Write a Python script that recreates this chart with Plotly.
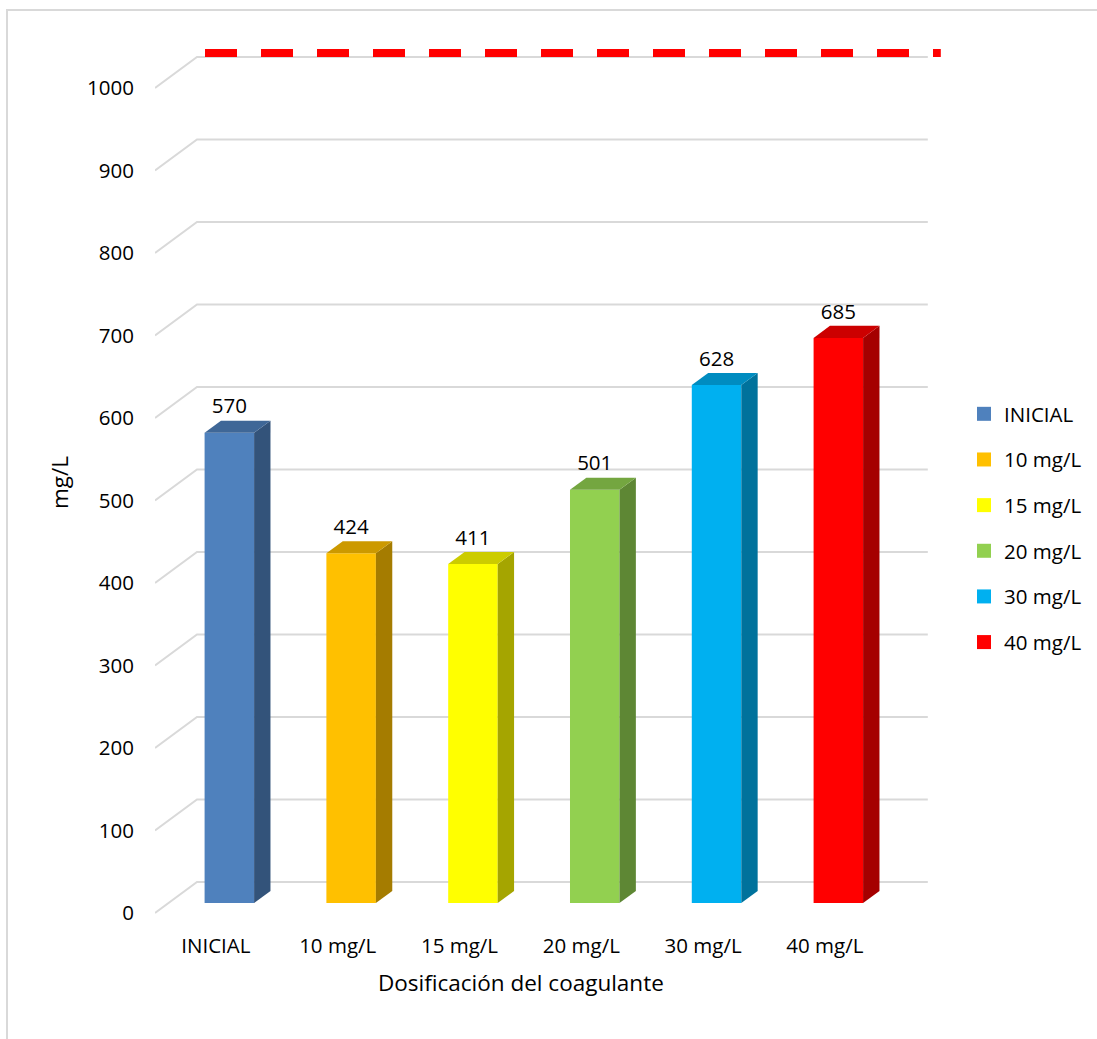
import plotly.graph_objects as go

# ---------------- data ----------------
categories = ["INICIAL", "10 mg/L", "15 mg/L", "20 mg/L", "30 mg/L", "40 mg/L"]
values = [570, 424, 411, 501, 628, 685]
front_colors = ["#4F81BD", "#FFC000", "#FFFF00", "#92D050", "#00B0F0", "#FF0000"]
y_ticks = [0, 100, 200, 300, 400, 500, 600, 700, 800, 900, 1000]
limit_value = 1000
x_title = "Dosificación del coagulante"
y_title = "mg/L"

# ---------------- geometry (pseudo 3-D) ----------------
W, H = 1097, 1039
PX_X = 121.8          # px per category
PX_Y = 0.825          # px per unit
L, R, T, B = 155, 152, 40, 114
plot_w = W - L - R
plot_h = H - T - B
x0 = -0.5
x_range = [x0, x0 + plot_w / PX_X]
y_low = -12.0 / PX_Y
y_range = [y_low, y_low + plot_h / PX_Y]

DX = 42 / PX_X        # depth vector (category units)
DY = 31 / PX_Y        # depth vector (value units)
F1, F2 = 0.32, 0.71   # bar front / back depth fractions
BAR_W = 49.5 / PX_X
n = len(categories)

FONT = "Open Sans"
FS = 20.5
FS_T = 22.5
TXT = "#000000"
GRID = "#D9D9D9"


def shade(hexc, f):
    h = hexc.lstrip("#")
    r, g, b = (int(h[i:i + 2], 16) for i in (0, 2, 4))
    return "#{:02X}{:02X}{:02X}".format(int(r * f), int(g * f), int(b * f))


fig = go.Figure()

# gridlines (front-left diagonal + back wall), built from tick values
shapes = []
for v in y_ticks:
    shapes.append(dict(type="path", xref="x", yref="y", layer="below",
                       path=f"M{x0},{v} L{x0 + DX},{v + DY} L{n - 0.5 + DX},{v + DY}",
                       line=dict(color=GRID, width=2)))

# outer chart border
shapes.append(dict(type="rect", xref="paper", yref="paper", layer="below",
                   x0=(7 - L) / plot_w, x1=(W + 20 - L) / plot_w,
                   y0=(H - B - (H + 20)) / plot_h, y1=(H - B - 10) / plot_h,
                   line=dict(color=GRID, width=2)))

# bars: front faces
bx = [i + F1 * DX for i in range(n)]
b1 = F1 * DY
bdx = (F2 - F1) * DX
bdy = (F2 - F1) * DY
fig.add_trace(go.Bar(x=bx, y=values, base=b1, width=BAR_W,
                     marker=dict(color=front_colors, line=dict(width=0)),
                     showlegend=False, hoverinfo="skip"))

# side & top faces
for i, (v, c) in enumerate(zip(values, front_colors)):
    xl = bx[i] - BAR_W / 2
    xr = bx[i] + BAR_W / 2
    fig.add_trace(go.Scatter(
        x=[xr, xr + bdx, xr + bdx, xr, xr],
        y=[b1, b1 + bdy, b1 + v + bdy, b1 + v, b1],
        fill="toself", fillcolor=shade(c, 0.65), mode="lines",
        line=dict(width=0), showlegend=False, hoverinfo="skip"))
    fig.add_trace(go.Scatter(
        x=[xl, xl + bdx, xr + bdx, xr, xl],
        y=[b1 + v, b1 + v + bdy, b1 + v + bdy, b1 + v, b1 + v],
        fill="toself", fillcolor=shade(c, 0.8), mode="lines",
        line=dict(width=0), showlegend=False, hoverinfo="skip"))

# data labels
fig.add_trace(go.Scatter(
    x=bx, y=[v + b1 + bdy + 15 for v in values], mode="text",
    text=[str(v) for v in values], textposition="middle center",
    textfont=dict(family=FONT, size=FS, color=TXT),
    showlegend=False, hoverinfo="skip", cliponaxis=False))

# limit line on the back wall
fig.add_trace(go.Scatter(
    x=[x0 + DX + 8 / PX_X, n - 0.5 + DX + 13 / PX_X],
    y=[limit_value + DY + 5, limit_value + DY + 5],
    mode="lines", line=dict(color="#FF0000", width=8, dash="32px,24px"),
    showlegend=False, hoverinfo="skip", cliponaxis=False))

# legend entries
for i, (cat, c) in enumerate(zip(categories, front_colors)):
    fig.add_trace(go.Scatter(
        x=[None], y=[None], mode="markers", name=cat, legendgroup=f"g{i}",
        marker=dict(symbol="square", size=14, color=c)))

fig.update_layout(
    width=W, height=H,
    margin=dict(l=L, r=R, t=T, b=B, autoexpand=False),
    paper_bgcolor="white", plot_bgcolor="white",
    shapes=shapes,
    showlegend=True,
    legend=dict(x=(964 - L) / plot_w, xanchor="left",
                y=(H - B - 394) / plot_h, yanchor="top",
                font=dict(family=FONT, size=FS, color=TXT),
                tracegroupgap=16, bgcolor="rgba(0,0,0,0)"),
    annotations=[dict(text=x_title, xref="paper", yref="paper",
                      x=(521 - L) / plot_w, y=(H - B - 983) / plot_h,
                      xanchor="center", yanchor="middle", showarrow=False,
                      font=dict(family=FONT, size=FS_T, color=TXT))],
)
fig.update_xaxes(range=x_range, tickvals=list(range(n)), ticktext=categories,
                 showgrid=False, zeroline=False, showline=False, ticks="",
                 tickfont=dict(family=FONT, size=FS, color=TXT),
                 ticklabelstandoff=6)
fig.update_yaxes(range=y_range, tickvals=y_ticks, showgrid=False,
                 zeroline=False, showline=False, ticks="",
                 tickfont=dict(family=FONT, size=FS, color=TXT),
                 ticklabelstandoff=20,
                 title=dict(text=y_title, standoff=12,
                            font=dict(family=FONT, size=FS_T, color=TXT)))

fig.write_html("out.html", config={"displayModeBar": False},
               post_script="document.body.style.margin='0';")
